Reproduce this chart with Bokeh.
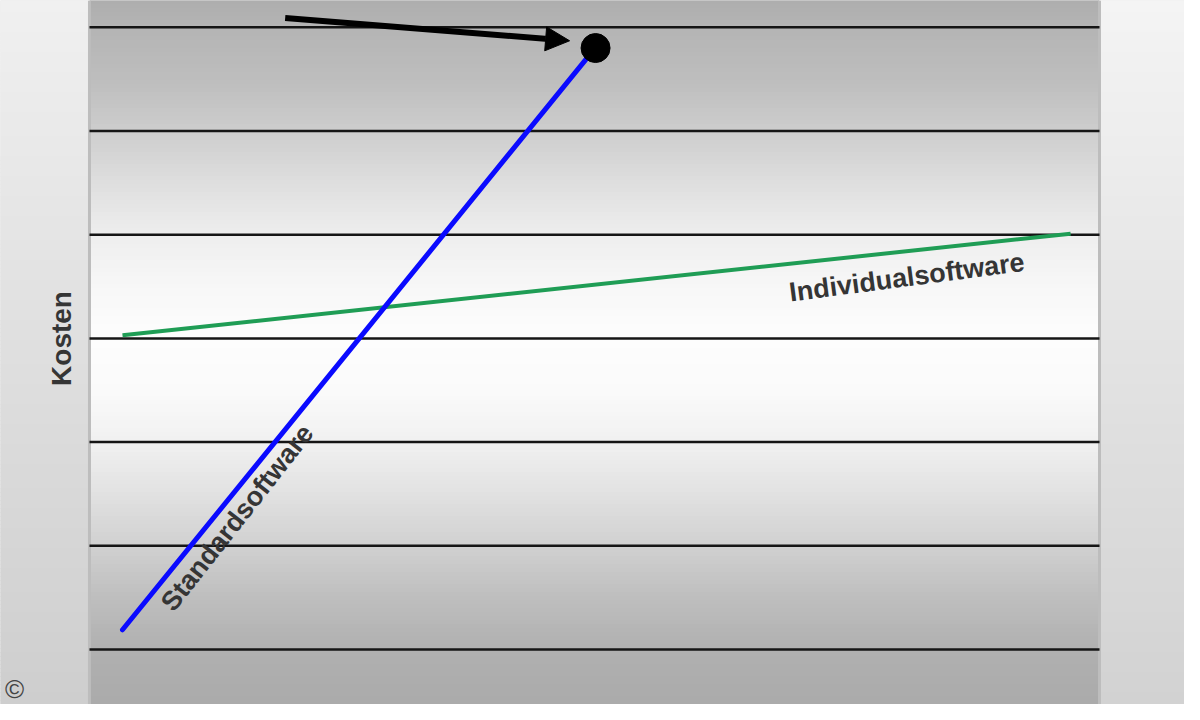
import numpy as np
from bokeh.plotting import figure
from bokeh.models import Range1d, Arrow, NormalHead
from bokeh.core.properties import value
from bokeh.embed import file_html
from bokeh.resources import INLINE

# ---------------- data ----------------
cost_levels = [0, 1, 2, 3, 4, 5, 6]          # horizontal rule lines ("Kosten" levels)
standard_x = [0.0, 4.66]                      # Standardsoftware
standard_y = [0.19, 5.71]
individual_x = [0.0, 9.50]                    # Individualsoftware
individual_y = [3.03, 4.01]
breakthrough_x = [4.74]                       # end point marker
breakthrough_y = [5.80]
arrow_x = [1.63, 4.48]                        # pointer arrow (start, end)
arrow_y = [6.09, 5.87]
y_label = "Kosten"
label_standard = "Standardsoftware"
label_individual = "Individualsoftware"
copyright_text = "©"

# ---------------- layout ----------------
W, H = 1184, 704
X0, X1 = -1.2224, 10.6413      # whole canvas in data units
Y0, Y1 = -0.5304, 6.2584
PX0, PX1 = -0.3307, 9.7896     # inner (grey banded) panel

p = figure(width=W, height=H, output_backend="svg", toolbar_location=None,
           x_range=Range1d(X0, X1), y_range=Range1d(Y0, Y1),
           min_border=0, min_border_left=0, min_border_right=0,
           min_border_top=0, min_border_bottom=0)
p.axis.visible = False
p.grid.visible = False
p.outline_line_color = None
p.background_fill_color = "#e0e0e0"
p.border_fill_color = "#e0e0e0"

# ---------------- background gradients (styling) ----------------
def ypix_to_data(py):
    return (657.0 - np.asarray(py, dtype=float)) / 103.7

n = 176
edges = np.linspace(Y1, Y0, n + 1)
tops, bottoms = edges[:-1], edges[1:]
mids = (tops + bottoms) / 2

# inner panel: grey -> white -> grey
kp_pix = [0, 35, 90, 142, 190, 243, 300, 347, 400, 453, 500, 555, 600, 657, 720]
kp_val = [172, 180, 190, 206, 222, 238, 248, 253, 250, 240, 226, 208, 192, 176, 170]
kp_y = ypix_to_data(kp_pix)
order = np.argsort(kp_y)
inner_vals = np.interp(mids, kp_y[order], np.asarray(kp_val, float)[order])

# outer frame: light top -> grey bottom
outer_vals = np.interp(mids, [Y0, Y1], [210, 244])

def hexgray(v):
    v = int(round(v))
    return "#%02x%02x%02x" % (v, v, v)

inner_cols = [hexgray(v) for v in inner_vals]
left_cols = [hexgray(v - 4) for v in outer_vals]
right_cols = [hexgray(v) for v in outer_vals]
p.quad(left=PX0, right=PX1, top=tops, bottom=bottoms,
       fill_color=inner_cols, line_color=inner_cols, line_width=1)
p.quad(left=X0, right=PX0, top=tops, bottom=bottoms,
       fill_color=left_cols, line_color=left_cols, line_width=1)
p.quad(left=PX1, right=X1, top=tops, bottom=bottoms,
       fill_color=right_cols, line_color=right_cols, line_width=1)
# panel edges
p.segment(x0=[PX0, PX1], y0=[Y0, Y0], x1=[PX0, PX1], y1=[Y1, Y1],
          line_color="#bdbdbd", line_width=3)

# ---------------- rule lines ----------------
p.segment(x0=[PX0] * len(cost_levels), y0=cost_levels,
          x1=[PX1] * len(cost_levels), y1=cost_levels,
          line_color="#151515", line_width=2.5)

# ---------------- series ----------------
p.line(individual_x, individual_y, line_color="#1f9d55", line_width=4)
p.line(standard_x, standard_y, line_color="#0a0aff", line_width=5, line_cap="round")
p.scatter(breakthrough_x, breakthrough_y, size=29, marker="circle",
          fill_color="black", line_color="black")

p.add_layout(Arrow(end=NormalHead(size=24, fill_color="black", line_color="black"),
                   x_start=arrow_x[0], y_start=arrow_y[0],
                   x_end=arrow_x[1], y_end=arrow_y[1],
                   line_color="black", line_width=6))

# ---------------- texts ----------------
font = value("Liberation Sans")
p.text(x=[1.15], y=[1.27], text=[label_standard], angle=np.radians(51.8),
       text_align="center", text_baseline="middle", text_font=font,
       text_font_size="27px", text_font_style="bold", text_color="#353535")
p.text(x=[7.86], y=[3.59], text=[label_individual], angle=np.radians(7.5),
       text_align="center", text_baseline="middle", text_font=font,
       text_font_size="27px", text_font_style="bold", text_color="#353535")
p.text(x=[(69 - 130) / 99.8], y=[ypix_to_data(346)], text=[y_label], angle=np.pi / 2,
       text_align="center", text_baseline="middle", text_font=font,
       text_font_size="28px", text_font_style="bold", text_color="#353535")
p.text(x=[(22 - 130) / 99.8], y=[ypix_to_data(697)], text=[copyright_text],
       text_align="center", text_baseline="middle", text_font=font,
       text_font_size="26px", text_color="#444444")

open("out.html", "w").write(file_html(p, INLINE))
